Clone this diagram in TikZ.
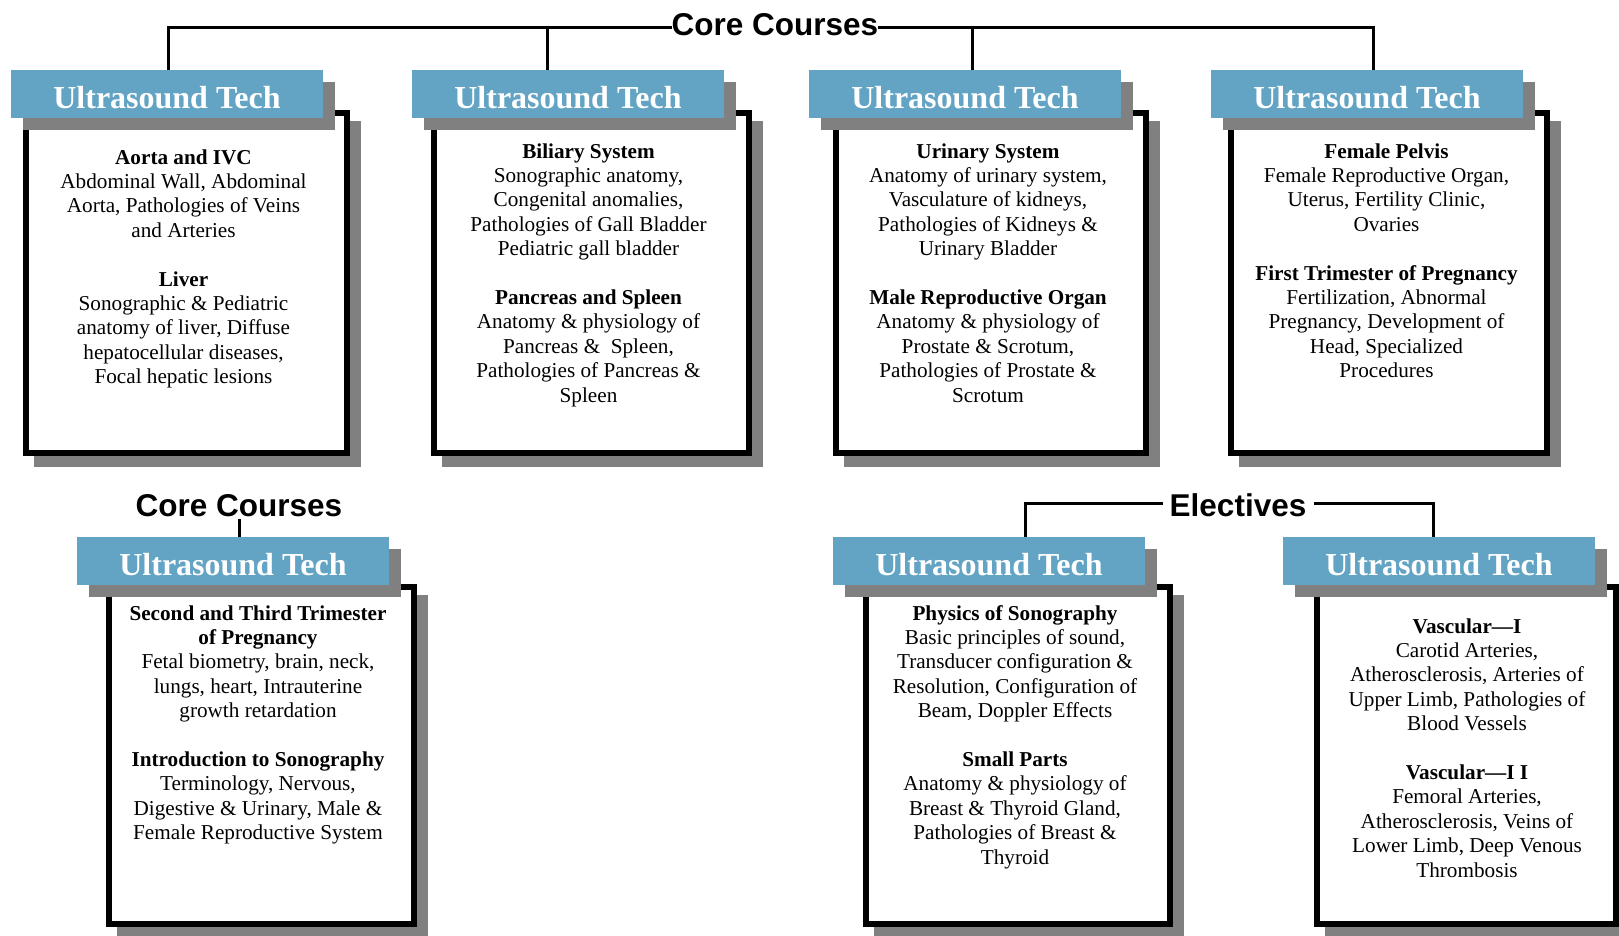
\documentclass[tikz,border=0pt]{standalone}
\usepackage{fontspec}
\setmainfont{Liberation Serif}
\newfontfamily\arialfont{Liberation Sans}
\definecolor{hblue}{RGB}{99,164,196}
\definecolor{sgray}{RGB}{128,128,128}
\tikzset{
 hdr/.style={fill=hblue, text=white, minimum width=312pt, minimum height=48pt, inner sep=0pt, outer sep=0pt, text height=28pt, text depth=0pt, font=\bfseries\fontsize{32}{36}\selectfont, anchor=north west},
 cbox/.style={draw=black, line width=6pt, fill=white, inner sep=0pt, outer sep=0pt, anchor=north west},
 body/.style={anchor=base, inner sep=0pt, font=\fontsize{21.2}{24.4}\selectfont},
 lbl/.style={font=\arialfont\bfseries\fontsize{31.5}{36}\selectfont, inner sep=0pt, anchor=base, text depth=0pt},
 conn/.style={line width=3pt},
}
\newcommand\ubox[7]{%
 \fill[sgray] (#4+11,#5+11) rectangle (#6+11,#7+11);
 \node[cbox, minimum width={#6-#4-6}, minimum height={#7-#5-6}] (#1b) at (#4+3,#5+3) {};
 \fill[sgray] (#2+12,#3+12) rectangle (#2+324,#3+60);
 \node[hdr] (#1) at (#2,#3) {Ultrasound Tech};
}
\begin{document}
\begin{tikzpicture}[x=1pt,y=-1pt]
\useasboundingbox (0,0) rectangle (1619,935);
\clip (0,0) rectangle (1619,935);
\fill[white] (0,0) rectangle (1619,935);

\ubox{h1}{11}{70}{23}{110}{350}{456}
\ubox{h2}{412}{70}{431}{110}{752}{456}
\ubox{h3}{809}{70}{833}{110}{1149}{456}
\ubox{h4}{1211}{70}{1228}{110}{1550}{456}
\ubox{h5}{77}{537}{106}{584}{417}{927}
\ubox{h6}{833}{537}{863}{584}{1173}{927}
\ubox{h7}{1283}{537}{1314}{584}{1619}{927}

\node[body] (t1) at (183.5,164) {\parbox[t]{340pt}{\centering
\textbf{Aorta and IVC}\\ Abdominal Wall, Abdominal\\ Aorta, Pathologies of Veins\\ and Arteries\\[24.4pt]
\textbf{Liver}\\ Sonographic \& Pediatric\\ anatomy of liver, Diffuse\\ hepatocellular diseases,\\ Focal hepatic lesions}};

\node[body] (t2) at (588.5,158) {\parbox[t]{340pt}{\centering
\textbf{Biliary System}\\ Sonographic anatomy,\\ Congenital anomalies,\\ Pathologies of Gall Bladder\\ Pediatric gall bladder\\[24.4pt]
\textbf{Pancreas and Spleen}\\ Anatomy \& physiology of\\ Pancreas \&\ \ Spleen,\\ Pathologies of Pancreas \&\\ Spleen}};

\node[body] (t3) at (988,158) {\parbox[t]{340pt}{\centering
\textbf{Urinary System}\\ Anatomy of urinary system,\\ Vasculature of kidneys,\\ Pathologies of Kidneys \&\\ Urinary Bladder\\[24.4pt]
\textbf{Male Reproductive Organ}\\ Anatomy \& physiology of\\ Prostate \& Scrotum,\\ Pathologies of Prostate \&\\ Scrotum}};

\node[body] (t4) at (1386.5,158) {\parbox[t]{340pt}{\centering
\textbf{Female Pelvis}\\ Female Reproductive Organ,\\ Uterus, Fertility Clinic,\\ Ovaries\\[24.4pt]
\textbf{First Trimester of Pregnancy}\\ Fertilization, Abnormal\\ Pregnancy, Development of\\ Head, Specialized\\ Procedures}};

\node[body] (t5) at (258,620) {\parbox[t]{340pt}{\centering
\textbf{Second and Third Trimester}\\ \textbf{of Pregnancy}\\ Fetal biometry, brain, neck,\\ lungs, heart, Intrauterine\\ growth retardation\\[24.4pt]
\textbf{Introduction to Sonography}\\ Terminology, Nervous,\\ Digestive \& Urinary, Male \&\\ Female Reproductive System}};

\node[body] (t6) at (1015,620) {\parbox[t]{340pt}{\centering
\textbf{Physics of Sonography}\\ Basic principles of sound,\\ Transducer configuration \&\\ Resolution, Configuration of\\ Beam, Doppler Effects\\[24.4pt]
\textbf{Small Parts}\\ Anatomy \& physiology of\\ Breast \& Thyroid Gland,\\ Pathologies of Breast \&\\ Thyroid}};

\node[body] (t7) at (1467,633) {\parbox[t]{340pt}{\centering
\textbf{Vascular—I}\\ Carotid Arteries,\\ Atherosclerosis, Arteries of\\ Upper Limb, Pathologies of\\ Blood Vessels\\[24.4pt]
\textbf{Vascular—I I}\\ Femoral Arteries,\\ Atherosclerosis, Veins of\\ Lower Limb, Deep Venous\\ Thrombosis}};

\node[lbl, text height=17pt] (cc1) at (775,35.5) {Core Courses};
\node[lbl, text height=14pt, text depth=3pt] (cc2) at (239,516) {Core Courses};
\node[lbl, text height=26pt, inner xsep=7pt] (el) at (1238,516) {Electives};

\draw[conn] ([xshift=157pt]h1.north west) |- (cc1.west);
\draw[conn] ([xshift=135pt]h2.north west) |- (cc1.west);
\draw[conn] ([xshift=163pt]h3.north west) |- (cc1.east);
\draw[conn] ([xshift=162pt]h4.north west) |- (cc1.east);
\draw[conn] (cc2.south) -- (cc2.south |- h5.north);
\draw[conn] ([xshift=192pt]h6.north west) |- (el.west);
\draw[conn] ([xshift=150pt]h7.north west) |- (el.east);
\end{tikzpicture}
\end{document}
